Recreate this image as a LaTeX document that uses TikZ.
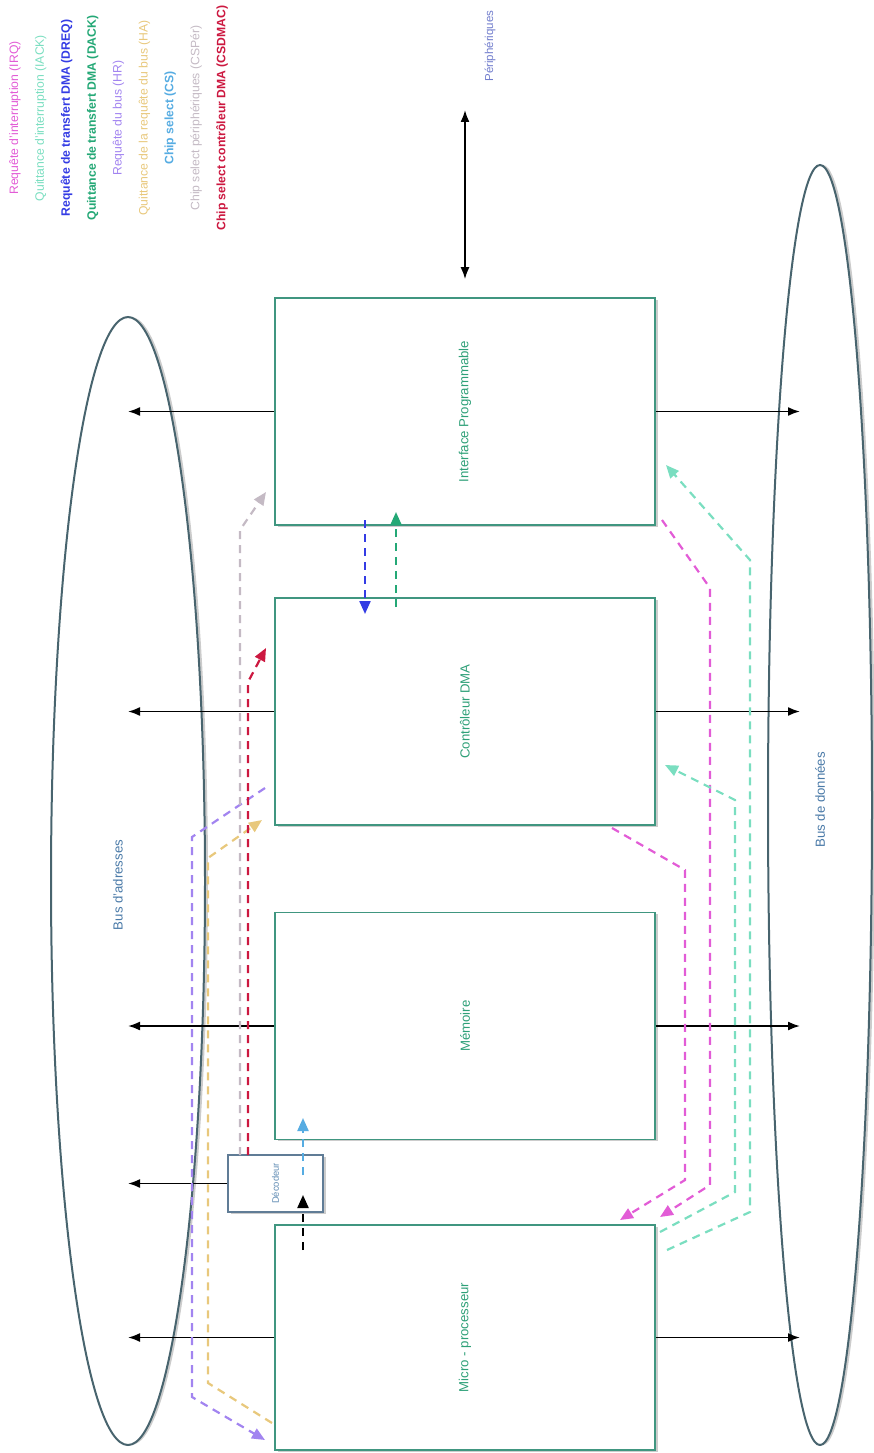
\documentclass[tikz,border=0pt]{standalone}
\usepackage{fontspec}
\setmainfont{Liberation Sans}
\usepackage{tikz}
\usetikzlibrary{arrows.meta,calc,shapes.geometric,shadows}
\definecolor{boxline}{RGB}{ 64,150,128}
\definecolor{boxtext}{RGB}{ 46,160,120}
\definecolor{decline}{RGB}{ 96,124,150}
\definecolor{dectext}{RGB}{ 96,140,180}
\definecolor{busline}{RGB}{ 72,100,110}
\definecolor{bustext}{RGB}{ 74,122,168}
\definecolor{pertext}{RGB}{112,124,204}
\definecolor{irqcol}{RGB}{226, 92,214}
\definecolor{iackcol}{RGB}{122,222,192}
\definecolor{dreqcol}{RGB}{ 52, 60,228}
\definecolor{dackcol}{RGB}{ 36,168,118}
\definecolor{hrcol}{RGB}{162,132,240}
\definecolor{hacol}{RGB}{232,200,124}
\definecolor{cscol}{RGB}{ 86,172,226}
\definecolor{csperiph}{RGB}{196,186,196}
\definecolor{csdmacol}{RGB}{204, 24, 64}

\begin{document}
\begin{tikzpicture}[x=1pt,y=-1pt,
    box/.style={draw=boxline,fill=white,line width=1.6pt,inner sep=0pt,
                minimum width=380pt,minimum height=227pt,
                drop shadow={shadow xshift=3pt,shadow yshift=-1.5pt,opacity=0.4},
                font=\fontsize{13.2}{15}\selectfont,text=boxtext},
    dec/.style={box,draw=decline,line width=1.2pt,minimum width=95pt,minimum height=57pt,
                font=\fontsize{9.4}{11}\selectfont,text=dectext},
    bus/.style={ellipse,draw=busline,fill=white,line width=2pt,inner sep=0pt,
                drop shadow={shadow xshift=3pt,shadow yshift=0pt,opacity=0.4}},
    lbl/.style={rotate=90,font=\fontsize{13.2}{15}\selectfont,text=bustext},
    link/.style={-{Latex[length=12pt,width=9pt]},line width=1.8pt},
    sig/.style={-{Triangle[length=13pt,width=11pt]},line width=2.2pt,
                dash pattern=on 8pt off 6pt},
]
\useasboundingbox (0,0) rectangle (873,1453);

% --- buses ---
\node[bus,minimum width=154pt,minimum height=1128pt] (addrbus) at (128,881) {};
\node[bus,minimum width=104pt,minimum height=1280pt] (databus) at (820,805) {};
\node[lbl] (addrlbl) at (118,885) {Bus d'adresses};
\node[lbl] (datalbl) at (820,800) {Bus de données};

% --- blocks ---
\node[box] (ip)  at (465,411.5)  {\rotatebox{90}{Interface Programmable}};
\node[box] (dma) at (465,711.5)  {\rotatebox{90}{Contrôleur DMA}};
\node[box] (mem) at (465,1026)   {\rotatebox{90}{Mémoire}};
\node[box,minimum height=225pt] (cpu) at (465,1337.5) {\rotatebox{90}{Micro - processeur}};
\node[dec] (decod) at (275.5,1183.5) {\rotatebox{90}{Décodeur}};

% legend
\node[rotate=90,align=center,font=\fontsize{12.2}{25.9}\selectfont] (legend) at (118.5,118) {%
  \textcolor{irqcol}{Requête d'interruption (IRQ)}\\
  \textcolor{iackcol}{Quittance d'interruption (IACK)}\\
  \textcolor{dreqcol}{\bfseries Requête de transfert DMA (DREQ)}\\
  \textcolor{dackcol}{\bfseries Quittance de transfert DMA (DACK)}\\
  \textcolor{hrcol}{Requête du bus (HR)}\\
  \textcolor{hacol}{Quittance de la requête du bus (HA)}\\
  \textcolor{cscol}{\bfseries Chip select (CS)}\\
  \textcolor{csperiph}{Chip select périphériques (CSPér)}\\
  \textcolor{csdmacol}{\bfseries Chip select contrôleur DMA (CSDMAC)}};

% peripherals
\node[rotate=90,font=\fontsize{11.5}{13}\selectfont,text=pertext] (perlbl) at (490,46) {Périphériques};
\coordinate (per) at (465,110);
\draw[{Latex[length=12pt,width=9pt]}-{Latex[length=12pt,width=9pt]},line width=1.8pt]
  (per) -- ($(ip.north)+(0,-18)$);

% --- bus links ---
\foreach \n in {ip,dma,mem,cpu} {
  \draw[link] (\n.west) -- (\n.west -| addrbus.center);
  \draw[link] (\n.east) -- ($(\n.east -| databus.center)+(-20,0)$);
}
\draw[link] (decod.west) -- (decod.west -| addrbus.center);

% --- signals ---
% bus request / acknowledge
\coordinate (hr0) at (265,788);  \coordinate (hr1) at (192,837);
\coordinate (hr2) at (192,1397); \coordinate (hr3) at (265,1440);
\draw[sig,hrcol] (hr0) -- (hr1) -- (hr2) -- (hr3);
\coordinate (ha0) at (272,1423); \coordinate (ha1) at (208,1383);
\coordinate (ha2) at (208,858);  \coordinate (ha3) at (262,820);
\draw[sig,hacol] (ha0) -- (ha1) -- (ha2) -- (ha3);

% chip selects from the decoder
\coordinate (cp0) at (240,1155); \coordinate (cp1) at (240,530);
\coordinate (cp2) at (266,492);
\draw[sig,csperiph] (cp0) -- (cp1) -- (cp2);
\coordinate (cd0) at (248,1155); \coordinate (cd1) at (248,682);
\coordinate (cd2) at (266,648);
\draw[sig,csdmacol] (cd0) -- (cd1) -- (cd2);
\coordinate (ad0) at (303,1250); \coordinate (ad1) at (303,1195);
\draw[sig,black] (ad0) -- (ad1);
\coordinate (cs0) at (303,1175); \coordinate (cs1) at (303,1118);
\draw[sig,cscol] (cs0) -- (cs1);

% DMA handshake
\coordinate (dq0) at (365,520); \coordinate (dq1) at (365,614);
\draw[sig,dreqcol] (dq0) -- (dq1);
\coordinate (dk0) at (396,607); \coordinate (dk1) at (396,512);
\draw[sig,dackcol] (dk0) -- (dk1);

% interrupts
\coordinate (ia0) at (662,520);  \coordinate (ia1) at (710,588);
\coordinate (ia2) at (710,1185); \coordinate (ia3) at (660,1217);
\draw[sig,irqcol] (ia0) -- (ia1) -- (ia2) -- (ia3);
\coordinate (ib0) at (612,828);  \coordinate (ib1) at (685,870);
\coordinate (ib2) at (685,1180); \coordinate (ib3) at (620,1220);
\draw[sig,irqcol] (ib0) -- (ib1) -- (ib2) -- (ib3);
\coordinate (ka0) at (660,1232); \coordinate (ka1) at (735,1192);
\coordinate (ka2) at (735,800);  \coordinate (ka3) at (665,765);
\draw[sig,iackcol] (ka0) -- (ka1) -- (ka2) -- (ka3);
\coordinate (kb0) at (667,1250); \coordinate (kb1) at (750,1212);
\coordinate (kb2) at (750,560);  \coordinate (kb3) at (666,465);
\draw[sig,iackcol] (kb0) -- (kb1) -- (kb2) -- (kb3);
\end{tikzpicture}
\end{document}
